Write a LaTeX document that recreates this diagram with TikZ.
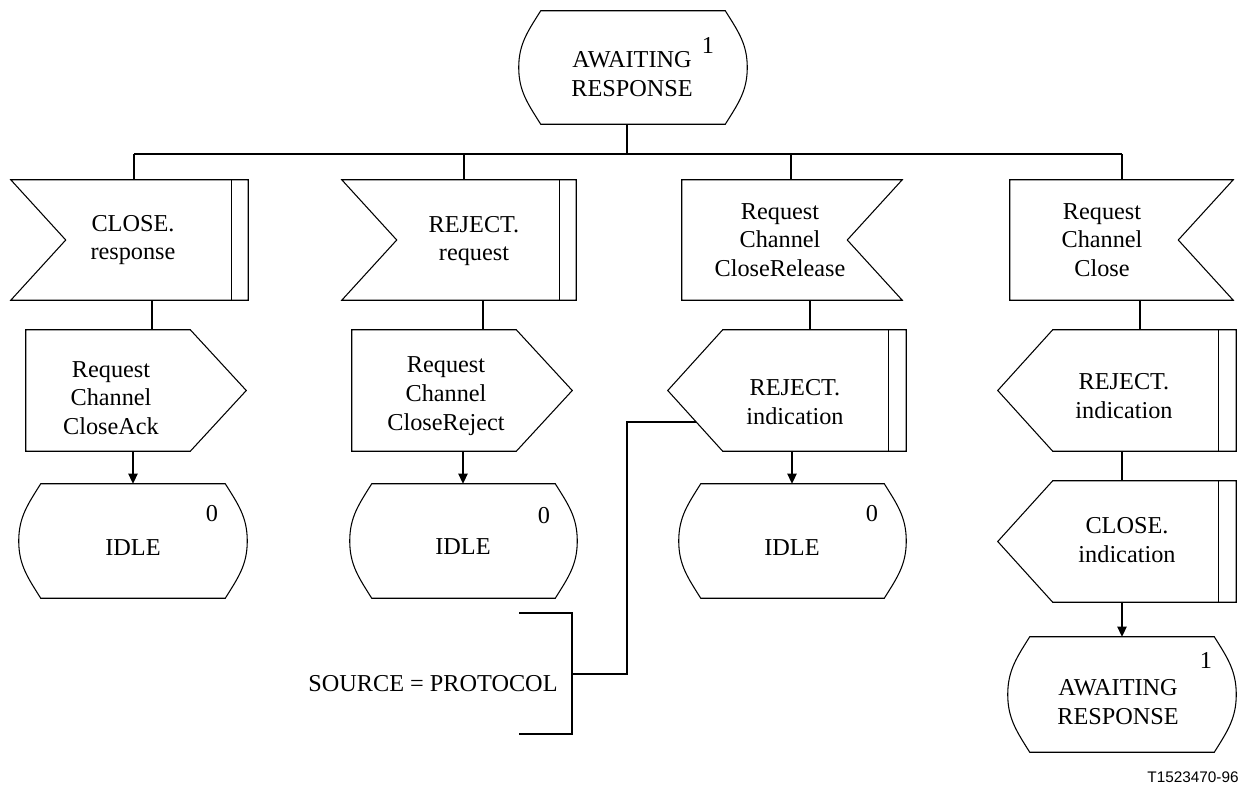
\documentclass[tikz,border=0pt]{standalone}
\usepackage{fontspec}
\setmainfont{Liberation Serif}
\newfontfamily\figsans{Liberation Sans}
\usetikzlibrary{calc,fit,arrows.meta}
\newcommand\drawstate[1]{\draw[shapeline] ($(#1.north west)+(22,0)$) -- ($(#1.north east)+(-22,0)$) to[out=-58,in=90] (#1.east) to[out=-90,in=58] ($(#1.south east)+(-22,0)$) -- ($(#1.south west)+(22,0)$) to[out=122,in=-90] (#1.west) to[out=90,in=-122] cycle;}
\newcommand\drawinleftbar[1]{\draw[shapeline] (#1.north west) -- (#1.north east) -- (#1.south east) -- (#1.south west) -- ($(#1.west)+(55,0)$) -- cycle;
  \draw[shapeline] ($(#1.north east)+(-17,0)$) -- ($(#1.south east)+(-17,0)$);}
\newcommand\drawinright[1]{\draw[shapeline] (#1.north west) -- (#1.north east) -- ($(#1.east)+(-55,0)$) -- (#1.south east) -- (#1.south west) -- cycle;}
\newcommand\drawoutright[1]{\draw[shapeline] (#1.north west) -- ($(#1.north east)+(-56,0)$) -- (#1.east) -- ($(#1.south east)+(-56,0)$) -- (#1.south west) -- cycle;}
\newcommand\drawoutleftbar[1]{\draw[shapeline] (#1.west) -- ($(#1.north west)+(55,0)$) -- (#1.north east) -- (#1.south east) -- ($(#1.south west)+(55,0)$) -- cycle;
  \draw[shapeline] ($(#1.north east)+(-18,0)$) -- ($(#1.south east)+(-18,0)$);}
\begin{document}
\begin{tikzpicture}[x=0.75pt,y=-0.75pt,
  shapeline/.style={line width=0.8pt,line join=miter},
  conn/.style={line width=0.8pt},
  arr/.style={line width=0.8pt,-{Triangle[length=7.5pt,width=7pt]}},
  box/.style={inner sep=0pt,draw=none},
  txt/.style={align=center,inner sep=0pt,font=\fontsize{18.2}{21.5}\selectfont},
  num/.style={inner sep=0pt,font=\fontsize{18.2}{21.5}\selectfont}]
\useasboundingbox (0,0) rectangle (1243,785);
% shape boxes
\node[box,fit={(519,11) (747,124)}] (S0) {};
\node[box,fit={(11,180) (248,300)}] (I1) {};
\node[box,fit={(342,180) (576,300)}] (I2) {};
\node[box,fit={(682,180) (902,300)}] (I3) {};
\node[box,fit={(1010,180) (1233,300)}] (I4) {};
\node[box,fit={(26,330) (246,451)}] (O1) {};
\node[box,fit={(352,330) (572,451)}] (O2) {};
\node[box,fit={(668,330) (906,451)}] (O3) {};
\node[box,fit={(998,330) (1236,451)}] (O4) {};
\node[box,fit={(998,481) (1236,602)}] (O5) {};
\node[box,fit={(19,484) (247,598)}] (T1) {};
\node[box,fit={(350,484) (577,598)}] (T2) {};
\node[box,fit={(679,484) (906,598)}] (T3) {};
\node[box,fit={(1008,637) (1236,752)}] (T4) {};
% outlines
\drawstate{S0}
\drawinleftbar{I1}
\drawinleftbar{I2}
\drawinright{I3}
\drawinright{I4}
\drawoutright{O1}
\drawoutright{O2}
\drawoutleftbar{O3}
\drawoutleftbar{O4}
\drawoutleftbar{O5}
\drawstate{T1}
\drawstate{T2}
\drawstate{T3}
\drawstate{T4}
% texts
\node[txt] (S0t) at (632,74) {AWAITING\\RESPONSE};
\node[num] (S0n) at (708,45) {1};
\node[txt] (I1t) at (133,240) {CLOSE.\\response};
\node[txt] (I2t) at (474,241) {REJECT.\\request};
\node[txt] (I3t) at (780,240) {Request\\Channel\\CloseRelease};
\node[txt] (I4t) at (1102,240) {Request\\Channel\\Close};
\node[txt] (O1t) at (111,398) {Request\\Channel\\CloseAck};
\node[txt] (O2t) at (446,396) {Request\\Channel\\CloseReject};
\node[txt] (O3t) at (795,402) {REJECT.\\indication};
\node[txt] (O4t) at (1124,396) {REJECT.\\indication};
\node[txt] (O5t) at (1127,540) {CLOSE.\\indication};
\node[txt] (T1t) at (133,548) {IDLE};
\node[num] (T1n) at (212,514) {0};
\node[txt] (T2t) at (463,547) {IDLE};
\node[num] (T2n) at (544,516) {0};
\node[txt] (T3t) at (792,548) {IDLE};
\node[num] (T3n) at (872,514) {0};
\node[txt] (T4t) at (1118,702) {AWAITING\\RESPONSE};
\node[num] (T4n) at (1206,660) {1};
\node[txt] (Ct) at (433,684) {SOURCE = PROTOCOL};
\node[inner sep=0pt,font=\figsans\fontsize{11.5}{13}\selectfont] (fid) at (1193,777) {T1523470-96};
% bus
\coordinate (bus0) at (627,154);
\coordinate (b1) at (134,154);
\coordinate (b2) at (464,154);
\coordinate (b3) at (791,154);
\coordinate (b4) at (1122,154);
\draw[conn] (S0.south -| bus0) -- (bus0);
\draw[conn] (b1) -- (b4);
\draw[conn] (b1) -- (I1.north -| b1);
\draw[conn] (b2) -- (I2.north -| b2);
\draw[conn] (b3) -- (I3.north -| b3);
\draw[conn] (b4) -- (I4.north -| b4);
% column links
\coordinate (c1) at (152,0);
\coordinate (c2) at (483,0);
\coordinate (c3) at (810,0);
\coordinate (c4) at (1140,0);
\coordinate (a1) at (133,0);
\coordinate (a2) at (463,0);
\coordinate (a3) at (792,0);
\coordinate (a4) at (1122,0);
\draw[conn] (I1.south -| c1) -- (O1.north -| c1);
\draw[conn] (I2.south -| c2) -- (O2.north -| c2);
\draw[conn] (I3.south -| c3) -- (O3.north -| c3);
\draw[conn] (I4.south -| c4) -- (O4.north -| c4);
\draw[arr] (O1.south -| a1) -- (T1.north -| a1);
\draw[arr] (O2.south -| a2) -- (T2.north -| a2);
\draw[arr] (O3.south -| a3) -- (T3.north -| a3);
\draw[conn] (O4.south -| a4) -- (O5.north -| a4);
\draw[arr] (O5.south -| a4) -- (T4.north -| a4);
% comment
\coordinate (cbT) at (572,613);
\coordinate (cbB) at (572,734);
\coordinate (cbM) at (572,674);
\coordinate (cbE) at (696,422);
\draw[conn] ($(cbT)+(-53,0)$) -- (cbT) -- (cbB) -- ($(cbB)+(-53,0)$);
\draw[conn] (cbM) -- (627,674) -- (627,422) -- (cbE);
\end{tikzpicture}
\end{document}
